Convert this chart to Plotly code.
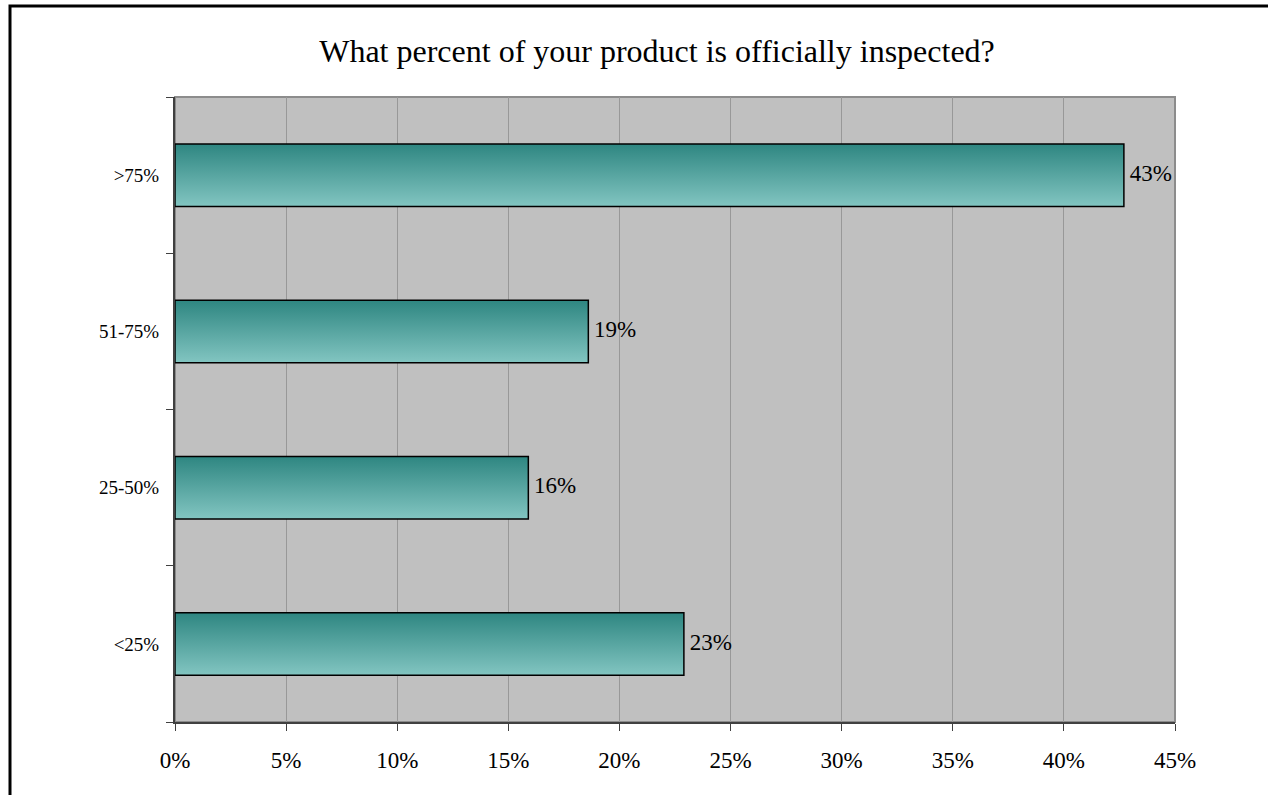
import plotly.graph_objects as go

# Data (bottom to top)
categories = ["<25%", "25-50%", "51-75%", ">75%"]
values = [22.9, 15.9, 18.6, 42.7]
labels = ["23%", "16%", "19%", "43%"]
x_ticks = [0, 5, 10, 15, 20, 25, 30, 35, 40, 45]
x_ticktext = [f"{t}%" for t in x_ticks]

FONT = "Liberation Serif"
half = 0.2
dark = "#2E8681"
light = "#82C5C1"

fig = go.Figure()
for i, (cat, v) in enumerate(zip(categories, values)):
    fig.add_trace(go.Scatter(
        x=[0, v, v, 0, 0],
        y=[i - half, i - half, i + half, i + half, i - half],
        mode="lines",
        fill="toself",
        fillgradient=dict(type="vertical", colorscale=[[0, light], [1, dark]]),
        line=dict(color="black", width=1.5),
        name=cat,
        showlegend=False,
        hoverinfo="skip",
    ))

fig.add_trace(go.Scatter(
    x=values,
    y=list(range(len(categories))),
    mode="text",
    text=[" " + t for t in labels],
    textposition="middle right",
    textfont=dict(family=FONT, size=23, color="black"),
    showlegend=False,
    hoverinfo="skip",
))

fig.update_layout(
    width=1268, height=795,
    margin=dict(l=175, r=93, t=97, b=73),
    paper_bgcolor="white",
    plot_bgcolor="#C0C0C0",
    font=dict(family=FONT, size=24, color="black"),
    title=dict(text="What percent of your product is officially inspected?",
               x=0.482, xref="paper", xanchor="center",
               y=1 - 51 / 795, yref="container", yanchor="middle",
               font=dict(family=FONT, size=32, color="black")),
    xaxis=dict(range=[0, 45], tickvals=x_ticks, ticktext=x_ticktext,
               tickfont=dict(size=23),
               showgrid=True, gridcolor="#989898", gridwidth=1,
               showline=True, linecolor="#404040", linewidth=2,
               ticks="outside", ticklen=7, tickcolor="#404040", tickwidth=1,
               ticklabelstandoff=9, zeroline=False, fixedrange=True),
    yaxis=dict(range=[-0.5, 3.5], tickvals=list(range(len(categories))),
               ticktext=categories, tickfont=dict(size=19),
               showgrid=False, zeroline=False,
               showline=True, linecolor="#404040", linewidth=2,
               ticks="", ticklabelstandoff=10,
               minor=dict(tickvals=[-0.5, 0.5, 1.5, 2.5, 3.5], ticks="outside",
                          ticklen=7, tickcolor="#404040", tickwidth=1, showgrid=False),
               fixedrange=True),
    shapes=[
        dict(type="rect", xref="x domain", yref="y domain", x0=0, x1=1, y0=0, y1=1,
             line=dict(color="#8C8C8C", width=2), layer="below"),
        dict(type="rect", xref="paper", yref="paper",
             x0=(10 - 175) / 1000, x1=1.3, y0=(722 - 806) / 625, y1=(722 - 6) / 625,
             line=dict(color="black", width=3), fillcolor="rgba(0,0,0,0)"),
    ],
)

fig.write_html("out.html")
